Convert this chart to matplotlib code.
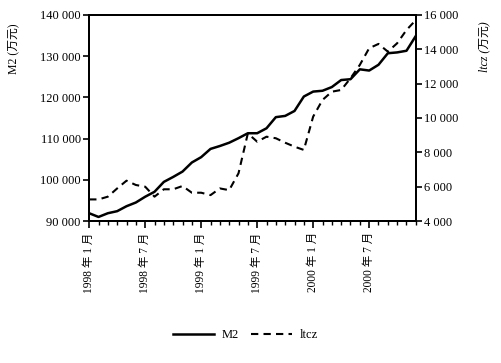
import matplotlib
matplotlib.use("Agg")
import matplotlib.pyplot as plt
from matplotlib.ticker import FixedLocator, MultipleLocator

plt.rcParams['font.family'] = ['Liberation Serif', 'Noto Sans CJK SC', 'DejaVu Sans']

months = list(range(36))
m2 = [91900, 91000, 91900, 92400, 93600, 94500, 95900, 97100, 99500, 100700,
      102000, 104200, 105500, 107500, 108200, 109000, 110100, 111300, 111300,
      112500, 115200, 115500, 116700, 120200, 121400, 121600, 122500, 124200,
      124400, 126800, 126500, 127900, 130700, 130900, 131300, 134900]
ltcz = [5260, 5260, 5420, 5900, 6350, 6100, 6000, 5420, 5850, 5850,
        6040, 5650, 5650, 5510, 5900, 5800, 6780, 9100, 8620, 8910,
        8820, 8560, 8330, 8140, 10080, 11050, 11530, 11630, 12310, 13090,
        14060, 14310, 13860, 14350, 15120, 15700]
xtick_pos = [0, 6, 12, 18, 24, 30]
xtick_labels = ['1998 年 1 月', '1998 年 7 月', '1999 年 1 月',
                '1999 年 7 月', '2000 年 1 月', '2000 年 7 月']
left_ticks = [90000, 100000, 110000, 120000, 130000, 140000]
right_ticks = [4000, 6000, 8000, 10000, 12000, 14000, 16000]

def fmt(v):
    return f"{v:,}".replace(",", " ")

fig = plt.figure(figsize=(5.01, 3.63), dpi=100)
ax = fig.add_axes([0.178, 0.391, 0.652, 0.568])
ax2 = ax.twinx()

l1, = ax.plot(months, m2, color='black', lw=1.8, label='M2')
l2, = ax2.plot(months, ltcz, color='black', lw=1.5, ls=(0, (3.5, 2.5)), label='ltcz')

ax.set_xlim(0, 35)
ax.set_ylim(90000, 140000)
ax2.set_ylim(4000, 16000)

ax.xaxis.set_major_locator(FixedLocator(xtick_pos))
ax.xaxis.set_minor_locator(MultipleLocator(1))
ax.set_xticklabels(xtick_labels, rotation=90, fontsize=8.3)
ax.set_yticks(left_ticks)
ax.set_yticklabels([fmt(v) for v in left_ticks], fontsize=9)
ax2.set_yticks(right_ticks)
ax2.set_yticklabels([fmt(v) for v in right_ticks], fontsize=9)

ax.tick_params(axis='x', which='major', length=5, width=1.2, direction='out', pad=3)
ax.tick_params(axis='x', which='minor', length=3, width=1.0, direction='out')
ax.tick_params(axis='y', length=4, width=1.2, direction='out', pad=2)
ax2.tick_params(axis='y', length=4, width=1.2, direction='out', pad=2)

for a in (ax, ax2):
    for s in a.spines.values():
        s.set_linewidth(1.4)

ax.set_ylabel('M2 (万元)', fontsize=8.5)
ax.yaxis.set_label_coords(-0.215, 0.835)
ax2.set_ylabel('ltcz (万元)', fontsize=8.5, rotation=90, style='italic')
ax2.yaxis.set_label_coords(1.19, 0.845)

fig.legend(handles=[l1, l2], loc='center', bbox_to_anchor=(0.49, 0.077),
           ncol=2, frameon=False, fontsize=9, handlelength=3.3,
           columnspacing=1.0, handletextpad=0.6)

fig.savefig('out.png', dpi=100)
